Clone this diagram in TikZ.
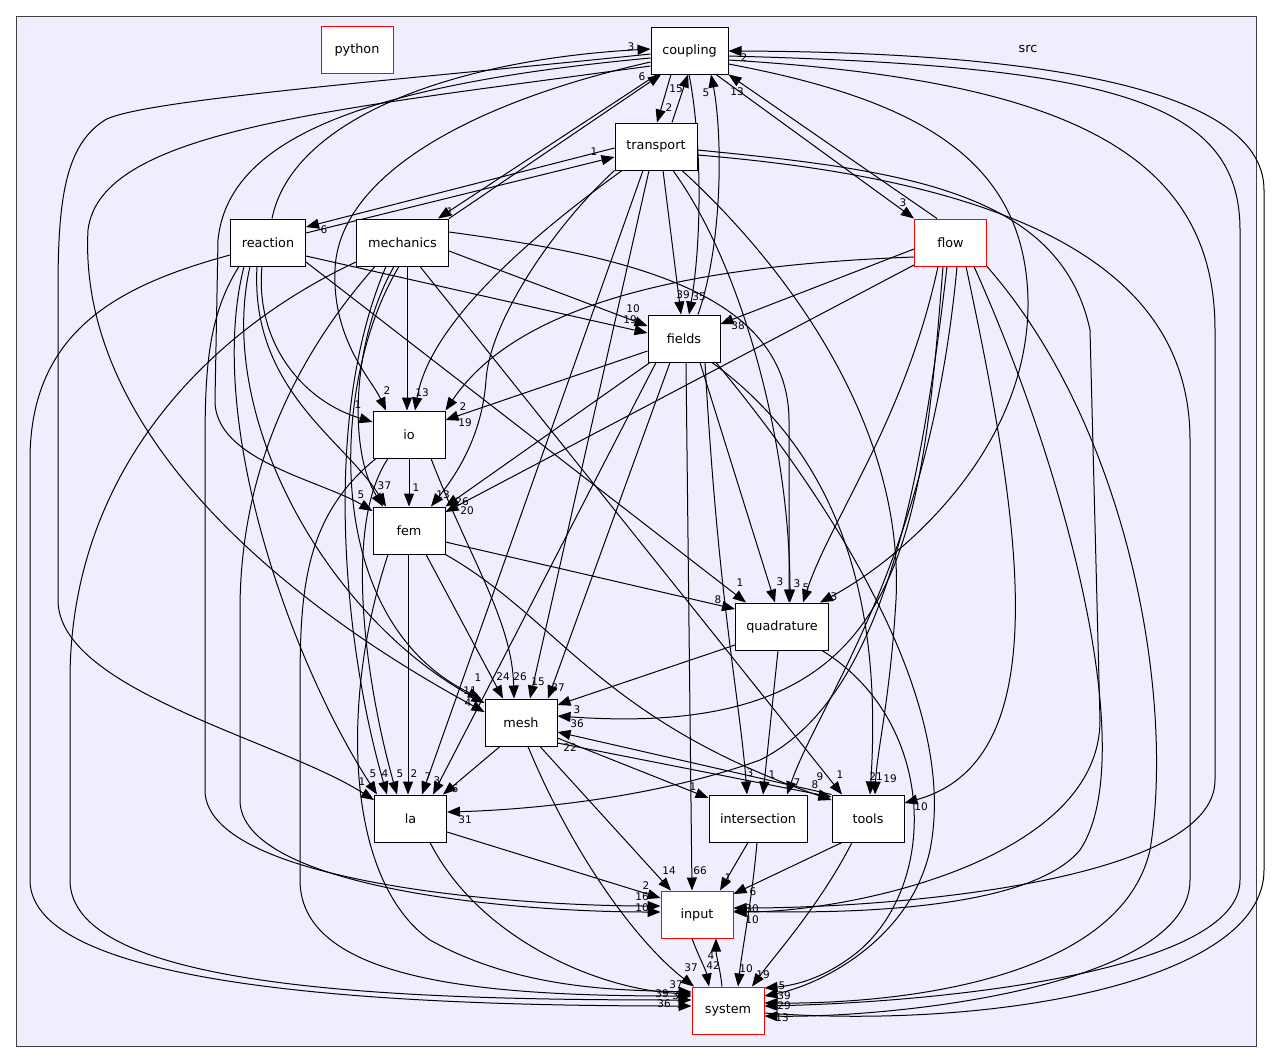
\documentclass[tikz,border=0pt]{standalone}
\usepackage{fontspec}
\setmainfont{DejaVu Sans}
\usetikzlibrary{arrows.meta}
\pgfdeclarelayer{bg}
\pgfdeclarelayer{edgelayer}
\pgfsetlayers{bg,edgelayer,main}
\definecolor{srcbg}{RGB}{238,238,255}
\definecolor{clborder}{RGB}{64,64,64}
\begin{document}
\begin{tikzpicture}[x=1pt,y=-1pt,
  dirbox/.style={draw=black,fill=white,line width=1pt,minimum height=47pt,inner sep=0pt,font=\fontsize{12.8}{15}\selectfont},
  redbox/.style={dirbox,draw=red},
  dep/.style={-{Triangle[length=13pt,width=10pt]},line width=1pt,black},
  lbl/.style={font=\fontsize{10.5}{12}\selectfont,inner sep=0pt}]
\useasboundingbox (0,0) rectangle (1272,1061);
\begin{pgfonlayer}{bg}
\draw[clborder,fill=srcbg,line width=1pt] (16,16) rectangle (1256,1046);
\end{pgfonlayer}
\node[font=\fontsize{12.8}{15}\selectfont] (srclabel) at (1028,49) {src};
% nodes
\node[redbox,minimum width=72pt] (python) at (357,50) {python};
\node[dirbox,minimum width=77pt] (coupling) at (689.5,50.5) {coupling};
\node[dirbox,minimum width=82pt] (transport) at (656,146.5) {transport};
\node[dirbox,minimum width=75pt] (reaction) at (268,242.5) {reaction};
\node[dirbox,minimum width=92pt] (mechanics) at (402.5,242.5) {mechanics};
\node[redbox,minimum width=72pt] (flow) at (950.5,242.5) {flow};
\node[dirbox,minimum width=72pt] (fields) at (684,338.5) {fields};
\node[dirbox,minimum width=72pt] (io) at (409,434.5) {io};
\node[dirbox,minimum width=72pt] (fem) at (409,530.5) {fem};
\node[dirbox,minimum width=93pt] (quadrature) at (782,626.5) {quadrature};
\node[dirbox,minimum width=72pt] (mesh) at (521,722.5) {mesh};
\node[dirbox,minimum width=72pt] (la) at (410.5,818.5) {la};
\node[dirbox,minimum width=98pt] (intersection) at (758,818.5) {intersection};
\node[dirbox,minimum width=72pt] (tools) at (868,818.5) {tools};
\node[redbox,minimum width=72pt] (input) at (697,914.5) {input};
\node[redbox,minimum width=72pt] (system) at (728,1010.5) {system};

\begin{pgfonlayer}{edgelayer}
% coupling
\draw[dep] (coupling.south -| 671,0) -- (transport.north -| 657,0);
\draw[dep] (coupling.south -| 689,0) .. controls (702,140) and (702,240) .. (fields.north -| 689,0);
\draw[dep] (coupling.south -| 716,0) -- (flow.north west);
\draw[dep] (coupling.south -| 657,0) -- (mechanics.north -| 438,0);
\draw[dep] (coupling.west |- 0,62) .. controls (460,105) and (338,180) .. (335,270) .. controls (332,340) and (372,380) .. (io.north -| 386,0);
\draw[dep] (coupling.west |- 0,58) .. controls (360,85) and (228,140) .. (218,240) -- (215,400) .. controls (214,460) and (320,480) .. (fem.west |- 0,511);
\draw[dep] (coupling.west |- 0,66) .. controls (330,110) and (100,130) .. (88,230) .. controls (78,420) and (260,590) .. (mesh.west |- 0,712);
\draw[dep] (coupling.west |- 0,54) .. controls (400,80) and (140,100) .. (105,120) .. controls (65,145) and (58,200) .. (58,290) -- (58,600) .. controls (58,690) and (280,740) .. (la.west |- 0,800);
\draw[dep] (coupling.east |- 0,64) .. controls (920,100) and (1025,160) .. (1028,300) .. controls (1030,450) and (900,560) .. (quadrature.north -| 820,0);
\draw[dep] (coupling.east |- 0,60) .. controls (1060,80) and (1215,150) .. (1215,330) -- (1215,780) .. controls (1215,880) and (900,908) .. (input.east |- 0,908);
\draw[dep] (coupling.east |- 0,56) .. controls (1110,66) and (1240,100) .. (1240,230) -- (1240,880) .. controls (1240,970) and (950,1002) .. (system.east |- 0,1006);
\draw[dep] (system.east |- 0,1013) .. controls (1000,1030) and (1264,980) .. (1264,870) -- (1264,190) .. controls (1264,80) and (1000,52) .. (coupling.east |- 0,51);
% transport
\draw[dep] (transport.north -| 672,0) -- (coupling.south -| 688,0);
\draw[dep] (transport.west |- 0,148) -- (reaction.east |- 0,227);
\draw[dep] (transport.south -| 663,0) -- (fields.north -| 681,0);
\draw[dep] (transport.south -| 622,0) .. controls (540,230) and (430,320) .. (io.north -| 415,0);
\draw[dep] (transport.south west) .. controls (555,225) and (490,320) .. (486,380) .. controls (482,440) and (452,480) .. (fem.north -| 431,0);
\draw[dep] (transport.south -| 649,0) -- (mesh.north -| 530,0);
\draw[dep] (transport.south -| 643,0) -- (la.north -| 422,0);
\draw[dep] (transport.south -| 673,0) .. controls (745,270) and (790,450) .. (quadrature.north -| 790,0);
\draw[dep] (transport.south -| 682,0) .. controls (780,260) and (905,420) .. (896,600) .. controls (890,700) and (877,750) .. (tools.north -| 875,0);
\draw[dep] (transport.east |- 0,150) .. controls (900,170) and (1060,190) .. (1090,330) -- (1100,720) .. controls (1100,860) and (850,912) .. (input.east |- 0,912);
\draw[dep] (transport.east |- 0,155) .. controls (1000,180) and (1190,260) .. (1190,440) -- (1190,880) .. controls (1190,985) and (900,1018) .. (system.east |- 0,1016);
% reaction
\draw[dep] (reaction.north -| 272,0) .. controls (292,120) and (450,60) .. (coupling.west |- 0,49);
\draw[dep] (reaction.east |- 0,233) -- (transport.west |- 0,157);
\draw[dep] (reaction.east |- 0,256) -- (fields.west |- 0,333);
\draw[dep] (reaction.south -| 262,0) .. controls (255,340) and (300,400) .. (io.west |- 0,422);
\draw[dep] (reaction.south -| 257,0) .. controls (250,390) and (345,440) .. (fem.north -| 386,0);
\draw[dep] (reaction.south -| 250,0) .. controls (215,420) and (330,620) .. (mesh.west |- 0,703);
\draw[dep] (reaction.south -| 244,0) .. controls (205,420) and (290,660) .. (la.north -| 377,0);
\draw[dep] (reaction.east |- 0,262) -- (quadrature.north -| 746,0);
\draw[dep] (reaction.south -| 239,0) .. controls (205,320) and (205,380) .. (205,460) -- (205,790) .. controls (205,880) and (500,906) .. (input.west |- 0,906);
\draw[dep] (reaction.west |- 0,255) .. controls (120,285) and (30,330) .. (30,460) -- (30,880) .. controls (30,990) and (400,1006) .. (system.west |- 0,1006);
% mechanics
\draw[dep] (mechanics.north east) -- (coupling.south -| 661,0);
\draw[dep] (mechanics.east |- 0,251) -- (fields.west |- 0,326);
\draw[dep] (mechanics.south -| 407,0) -- (io.north -| 407,0);
\draw[dep] (mechanics.south -| 394,0) .. controls (352,340) and (348,450) .. (fem.north -| 383,0);
\draw[dep] (mechanics.south -| 399,0) .. controls (330,380) and (320,620) .. (mesh.north -| 481,0);
\draw[dep] (mechanics.south -| 386,0) .. controls (320,420) and (345,650) .. (la.north -| 387,0);
\draw[dep] (mechanics.east |- 0,232) .. controls (620,255) and (788,290) .. (789,420) -- (quadrature.north -| 789,0);
\draw[dep] (mechanics.south -| 420,0) -- (tools.north -| 842,0);
\draw[dep] (mechanics.south -| 375,0) .. controls (275,380) and (240,500) .. (240,610) -- (240,800) .. controls (240,885) and (500,912) .. (input.west |- 0,912);
\draw[dep] (mechanics.west |- 0,262) .. controls (210,330) and (70,470) .. (70,680) -- (70,880) .. controls (70,990) and (400,1000) .. (system.west |- 0,1000);
% io
\draw[dep] (io.south) -- (fem.north);
\draw[dep] (io.south -| 431,0) .. controls (470,560) and (512,620) .. (mesh.north -| 514,0);
\draw[dep] (io.south -| 388,0) .. controls (340,530) and (370,700) .. (la.north -| 397,0);
\draw[dep] (io.south -| 376,0) .. controls (300,520) and (300,600) .. (300,700) -- (300,880) .. controls (300,985) and (500,996) .. (system.west |- 0,996);
% fem
\draw[dep] (fem.east |- 0,542) -- (quadrature.west |- 0,609);
\draw[dep] (fem.south -| 426,0) -- (mesh.north -| 503,0);
\draw[dep] (fem.south -| 408,0) -- (la.north -| 408,0);
\draw[dep] (fem.south east) .. controls (560,620) and (600,720) .. (tools.west |- 0,800);
\draw[dep] (fem.south -| 388,0) .. controls (340,700) and (345,880) .. (430,940) .. controls (520,990) and (620,990) .. (system.west |- 0,992);
% quadrature
\draw[dep] (quadrature.west |- 0,645) -- (mesh.east |- 0,705);
\draw[dep] (quadrature.south -| 778,0) -- (intersection.north -| 763,0);
\draw[dep] (quadrature.south -| 822,0) .. controls (935,720) and (940,880) .. (860,950) .. controls (830,975) and (800,985) .. (system.east |- 0,988);
% mesh
\draw[dep] (mesh.south -| 500,0) -- (la.north -| 443,0);
\draw[dep] (mesh.east |- 0,738) -- (intersection.west |- 0,798);
\draw[dep] (mesh.east |- 0,743) -- (tools.west |- 0,797);
\draw[dep] (tools.north west) -- (mesh.east |- 0,732);
\draw[dep] (mesh.south -| 540,0) -- (input.north -| 671,0);
\draw[dep] (mesh.south -| 528,0) .. controls (575,860) and (640,945) .. (system.north -| 694,0);
% la
\draw[dep] (la.east |- 0,832) -- (input.west |- 0,898);
\draw[dep] (la.south -| 430,0) .. controls (480,940) and (600,990) .. (system.west |- 0,994);
% intersection
\draw[dep] (intersection.south -| 748,0) -- (input.north -| 720,0);
\draw[dep] (intersection.south -| 757,0) .. controls (752,900) and (742,950) .. (system.north -| 738,0);
% tools
\draw[dep] (tools.south -| 842,0) -- (input.east |- 0,894);
\draw[dep] (tools.south -| 852,0) .. controls (820,905) and (775,955) .. (system.north -| 752,0);
% input / system
\draw[dep] (input.south -| 692,0) .. controls (698,955) and (706,970) .. (system.north -| 709,0);
\draw[dep] (system.north -| 722,0) .. controls (720,968) and (716,955) .. (input.south -| 716,0);
% fields
\draw[dep] (fields.north -| 698,0) .. controls (724,240) and (722,130) .. (coupling.south -| 711,0);
\draw[dep] (fields.west |- 0,351) -- (io.east |- 0,420);
\draw[dep] (fields.south -| 650,0) -- (fem.north east);
\draw[dep] (fields.south -| 670,0) -- (mesh.north -| 548,0);
\draw[dep] (fields.south -| 700,0) -- (quadrature.north -| 775,0);
\draw[dep] (fields.south -| 705,0) .. controls (718,600) and (740,700) .. (intersection.north -| 747,0);
\draw[dep] (fields.south -| 712,0) .. controls (860,470) and (880,640) .. (tools.north -| 870,0);
\draw[dep] (fields.south -| 686,0) -- (input.north -| 692,0);
\draw[dep] (fields.south -| 656,0) -- (la.north -| 433,0);
\draw[dep] (fields.south -| 716,0) .. controls (830,500) and (960,700) .. (930,850) .. controls (910,940) and (820,985) .. (system.east |- 0,996);
% flow
\draw[dep] (flow.north -| 937,0) -- (coupling.south east);
\draw[dep] (flow.west |- 0,249) -- (fields.east |- 0,324);
\draw[dep] (flow.west |- 0,257) .. controls (700,265) and (520,300) .. (io.north east);
\draw[dep] (flow.west |- 0,265) -- (fem.east |- 0,512);
\draw[dep] (flow.south -| 938,0) .. controls (905,420) and (830,520) .. (quadrature.north -| 803,0);
\draw[dep] (flow.south -| 943,0) .. controls (920,560) and (900,740) .. (mesh.east |- 0,716);
\draw[dep] (flow.south -| 947,0) .. controls (920,500) and (880,700) .. (760,760) .. controls (650,800) and (520,810) .. (la.east |- 0,812);
\draw[dep] (flow.south -| 957,0) .. controls (930,560) and (820,700) .. (intersection.north -| 787,0);
\draw[dep] (flow.south -| 966,0) .. controls (1020,520) and (1060,760) .. (tools.east |- 0,803);
\draw[dep] (flow.south -| 974,0) .. controls (1070,480) and (1140,760) .. (1080,850) .. controls (1030,910) and (850,914) .. (input.east |- 0,911);
\draw[dep] (flow.south east) .. controls (1130,430) and (1175,700) .. (1150,850) .. controls (1120,980) and (900,1004) .. (system.east |- 0,1003);
\end{pgfonlayer}

% labels
\node[lbl] (l01) at (669,108) {2};
\node[lbl] (l02) at (699,297) {35};
\node[lbl] (l03) at (903,203) {3};
\node[lbl] (l04) at (450,212) {1};
\node[lbl] (l05) at (387,391) {2};
\node[lbl] (l06) at (361,495) {5};
\node[lbl] (l07) at (468,703) {4};
\node[lbl] (l08) at (362,782) {1};
\node[lbl] (l09) at (834,597) {3};
\node[lbl] (l10) at (752,909) {30};
\node[lbl] (l12) at (744,58) {2};
\node[lbl] (l13) at (676,89) {15};
\node[lbl] (l14) at (324,230) {6};
\node[lbl] (l15) at (683,295) {39};
\node[lbl] (l16) at (422,393) {13};
\node[lbl] (l17) at (443,495) {13};
\node[lbl] (l18) at (538,682) {15};
\node[lbl] (l19) at (428,777) {7};
\node[lbl] (l20) at (797,584) {3};
\node[lbl] (l21) at (876,777) {21};
\node[lbl] (l22) at (752,920) {10};
\node[lbl] (l23) at (782,1018) {13};
\node[lbl] (l24) at (631,47) {3};
\node[lbl] (l25) at (594,152) {1};
\node[lbl] (l26) at (630,320) {19};
\node[lbl] (l27) at (358,405) {1};
\node[lbl] (l28) at (388,486) {7};
\node[lbl] (l29) at (470,691) {11};
\node[lbl] (l30) at (373,774) {5};
\node[lbl] (l31) at (740,583) {1};
\node[lbl] (l32) at (642,897) {16};
\node[lbl] (l33) at (680,1005) {1};
\node[lbl] (l34) at (642,77) {6};
\node[lbl] (l35) at (633,309) {10};
\node[lbl] (l36) at (381,486) {3};
\node[lbl] (l37) at (478,678) {1};
\node[lbl] (l38) at (385,774) {4};
\node[lbl] (l40) at (840,775) {1};
\node[lbl] (l41) at (642,908) {10};
\node[lbl] (l42) at (679,996) {38};
\node[lbl] (l43) at (416,488) {1};
\node[lbl] (l44) at (520,677) {26};
\node[lbl] (l45) at (400,774) {5};
\node[lbl] (l46) at (664,1004) {36};
\node[lbl] (l47) at (718,600) {8};
\node[lbl] (l48) at (503,677) {24};
\node[lbl] (l49) at (414,774) {2};
\node[lbl] (l50) at (820,777) {9};
\node[lbl] (l51) at (676,985) {37};
\node[lbl] (l52) at (577,710) {3};
\node[lbl] (l53) at (772,775) {1};
\node[lbl] (l54) at (782,986) {5};
\node[lbl] (l55) at (455,789) {6};
\node[lbl] (l56) at (693,787) {1};
\node[lbl] (l57) at (815,785) {8};
\node[lbl] (l58) at (570,748) {22};
\node[lbl] (l59) at (669,871) {14};
\node[lbl] (l60) at (691,968) {37};
\node[lbl] (l61) at (646,886) {2};
\node[lbl] (l62) at (662,994) {39};
\node[lbl] (l63) at (728,878) {1};
\node[lbl] (l64) at (746,969) {10};
\node[lbl] (l65) at (753,892) {6};
\node[lbl] (l66) at (763,975) {19};
\node[lbl] (l67) at (713,966) {42};
\node[lbl] (l68) at (711,956) {4};
\node[lbl] (l69) at (706,93) {5};
\node[lbl] (l70) at (465,423) {19};
\node[lbl] (l71) at (462,502) {26};
\node[lbl] (l72) at (558,688) {37};
\node[lbl] (l73) at (780,582) {3};
\node[lbl] (l74) at (750,773) {3};
\node[lbl] (l75) at (890,779) {19};
\node[lbl] (l76) at (700,871) {66};
\node[lbl] (l77) at (437,781) {3};
\node[lbl] (l78) at (784,996) {39};
\node[lbl] (l79) at (737,92) {13};
\node[lbl] (l80) at (738,326) {38};
\node[lbl] (l81) at (463,407) {2};
\node[lbl] (l82) at (467,511) {20};
\node[lbl] (l83) at (806,588) {5};
\node[lbl] (l84) at (577,724) {36};
\node[lbl] (l85) at (465,820) {31};
\node[lbl] (l86) at (797,783) {7};
\node[lbl] (l87) at (921,807) {10};
\node[lbl] (l89) at (784,1006) {29};
\end{tikzpicture}
\end{document}
